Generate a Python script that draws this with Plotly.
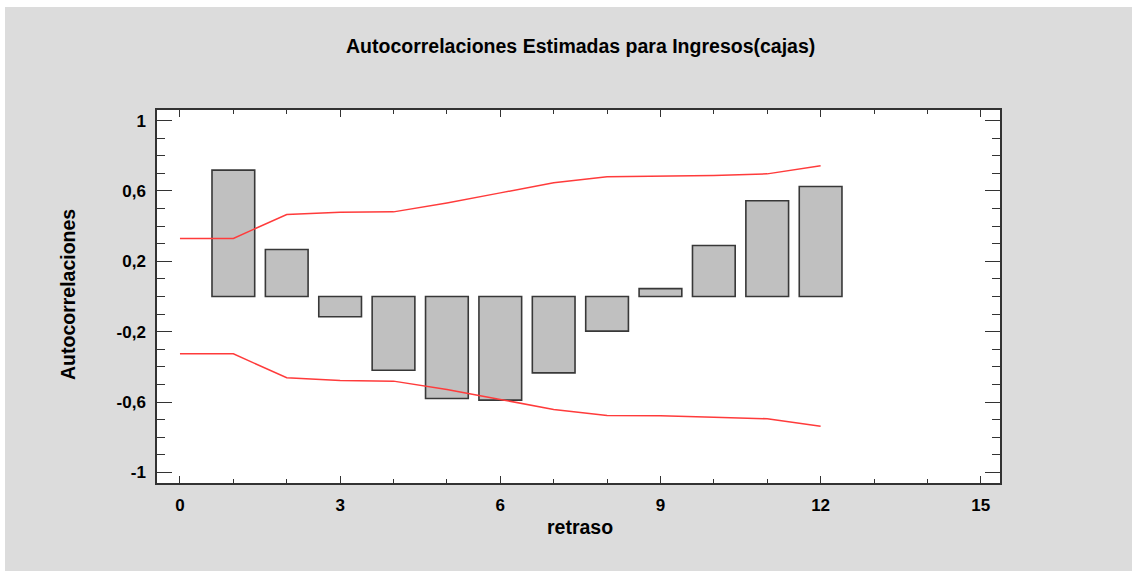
import plotly.graph_objects as go

# Data
lags = [1, 2, 3, 4, 5, 6, 7, 8, 9, 10, 11, 12]
autocorr = [0.718, 0.267, -0.115, -0.419, -0.580, -0.589, -0.434, -0.197, 0.045, 0.290, 0.544, 0.625]

limit_lags = [0, 1, 2, 3, 4, 5, 6, 7, 8, 9, 10, 11, 12]
upper_limit = [0.330, 0.330, 0.466, 0.479, 0.481, 0.532, 0.589, 0.646, 0.680, 0.682, 0.688, 0.697, 0.743]
lower_limit = [-0.326, -0.326, -0.462, -0.477, -0.481, -0.528, -0.585, -0.642, -0.676, -0.678, -0.686, -0.695, -0.737]

y_tick_vals = [-1, -0.6, -0.2, 0.2, 0.6, 1]
y_tick_text = ["-1", "-0,6", "-0,2", "0,2", "0,6", "1"]
x_tick_vals = [0, 3, 6, 9, 12, 15]
x_tick_text = ["0", "3", "6", "9", "12", "15"]

title_text = "Autocorrelaciones Estimadas para Ingresos(cajas)"
x_title = "retraso"
y_title = "Autocorrelaciones"

FONT = "Liberation Sans, Arial, sans-serif"
FRAME = "#333333"

fig = go.Figure()
fig.add_trace(go.Bar(
    x=lags, y=autocorr, width=0.8,
    marker=dict(color="#c0c0c0", line=dict(color="#383838", width=1.6)),
    showlegend=False,
))
fig.add_trace(go.Scatter(
    x=limit_lags, y=upper_limit, mode="lines",
    line=dict(color="#ff3b3b", width=1.5), showlegend=False,
))
fig.add_trace(go.Scatter(
    x=limit_lags, y=lower_limit, mode="lines",
    line=dict(color="#ff3b3b", width=1.5), showlegend=False,
))

L, R, T, B = 157, 1000, 110, 483
W, H = 1132, 571
pw, ph = R - L, B - T

def px_x(p):
    return (p - L) / pw

def px_y(p):
    return (B - p) / ph

fig.update_layout(
    width=W, height=H,
    margin=dict(l=L, r=W - R, t=T, b=H - B, pad=0),
    paper_bgcolor="white",
    plot_bgcolor="white",
    font=dict(family=FONT, size=16, color="black"),
    showlegend=False,
    shapes=[
        dict(type="rect", xref="paper", yref="paper",
             x0=px_x(5), x1=px_x(W + 5), y0=px_y(H + 5), y1=px_y(7),
             fillcolor="#dcdcdc", line=dict(width=0), layer="below"),
        dict(type="rect", xref="x domain", yref="y domain",
             x0=0, x1=1, y0=0, y1=1,
             fillcolor="white", line=dict(width=0), layer="below"),
    ],
    annotations=[
        dict(text=title_text, xref="paper", yref="paper",
             x=px_x(580), y=px_y(46), xanchor="center", yanchor="middle",
             showarrow=False, font=dict(family=FONT, size=19.5, weight="bold")),
        dict(text=x_title, xref="paper", yref="paper",
             x=px_x(580), y=px_y(527), xanchor="center", yanchor="middle",
             showarrow=False, font=dict(family=FONT, size=19.5, weight="bold")),
        dict(text=y_title, xref="paper", yref="paper",
             x=px_x(68), y=px_y(295), xanchor="center", yanchor="middle",
             textangle=-90,
             showarrow=False, font=dict(family=FONT, size=19.5, weight="bold")),
    ],
)

fig.update_xaxes(
    range=[-0.43, 15.36], showgrid=False, zeroline=False,
    showline=True, linecolor=FRAME, linewidth=1.5, mirror="allticks",
    ticks="inside", ticklen=7, tickwidth=1.2, tickcolor=FRAME,
    tickmode="array", tickvals=x_tick_vals, ticktext=x_tick_text,
    tickfont=dict(family=FONT, size=17, weight="bold"),
    minor=dict(tickmode="linear", tick0=0, dtick=1, ticks="inside",
               ticklen=4, tickwidth=1.2, tickcolor=FRAME),
    ticklabelstandoff=6,
)
fig.update_yaxes(
    range=[-1.06, 1.06], showgrid=False, zeroline=False,
    showline=True, linecolor=FRAME, linewidth=1.5, mirror="allticks",
    ticks="inside", ticklen=15, tickwidth=1.2, tickcolor=FRAME,
    tickmode="array", tickvals=y_tick_vals, ticktext=y_tick_text,
    tickfont=dict(family=FONT, size=17, weight="bold"),
    minor=dict(tickmode="linear", tick0=-1, dtick=0.1, ticks="inside",
               ticklen=8, tickwidth=1.2, tickcolor=FRAME),
    ticklabelstandoff=6,
)

fig.write_html("out.html")
